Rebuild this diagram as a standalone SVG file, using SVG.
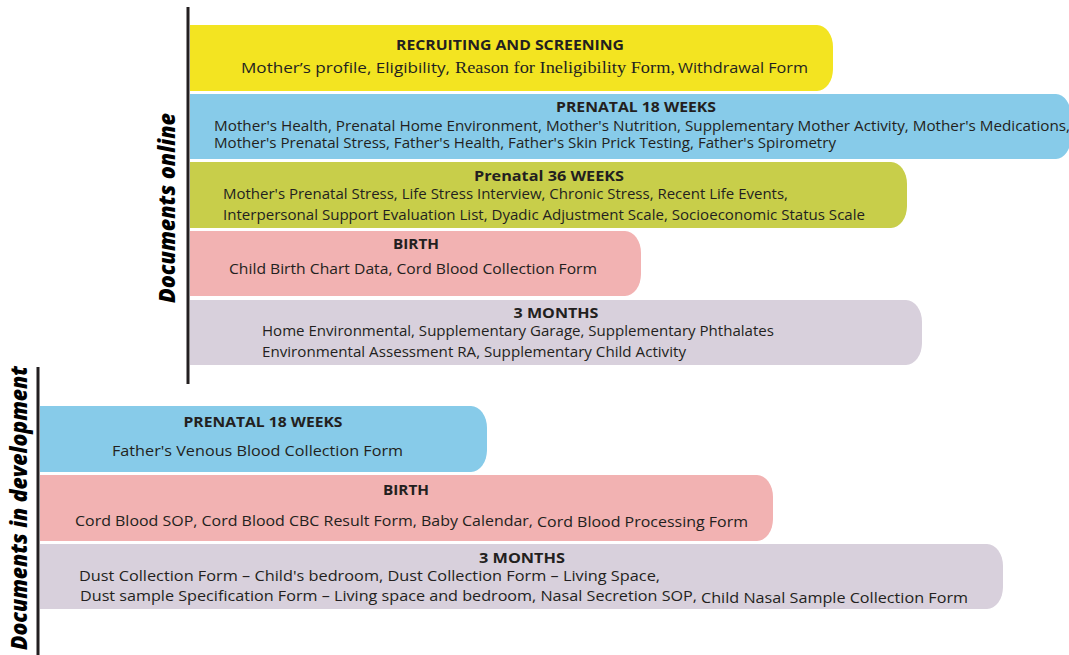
<svg xmlns="http://www.w3.org/2000/svg" width="1069" height="655" viewBox="0 0 1069 655">
<style>
.t{font-family:"Open Sans","Noto Sans",sans-serif;font-weight:bold;font-size:15px;fill:#231f20;text-anchor:middle}
.b{font-family:"Open Sans","Noto Sans",sans-serif;font-size:15px;fill:#231f20}
.bs{font-family:"Open Sans","Noto Sans",sans-serif;font-size:14px;fill:#231f20}
.s{font-family:"Liberation Serif","Times New Roman",serif;font-size:17px;fill:#231f20}
.lab{font-family:"Open Sans","DejaVu Sans",sans-serif;font-weight:800;font-style:italic;font-size:23px;fill:#000;text-anchor:middle}
.yel{fill:#f3e421}.blu{fill:#87cbe9}.grn{fill:#c8ce4a}.pnk{fill:#f2b2b2}.lav{fill:#d8d0dc}
.axis{stroke:#231f20;stroke-width:3;fill:none}
</style>
<rect width="1069" height="655" fill="#fff"/>
<g id="axes">
<line class="axis" x1="188" y1="7" x2="188" y2="384"/>
<line class="axis" x1="38" y1="367" x2="38" y2="655"/>
<text class="lab" transform="translate(175,208) rotate(-90)" textLength="190" lengthAdjust="spacingAndGlyphs">Documents online</text>
<text class="lab" transform="translate(27,508) rotate(-90)" textLength="284" lengthAdjust="spacingAndGlyphs">Documents in development</text>
</g>
<g id="recruiting">
<path class="yel" d="M190 25 H817 A16 22 0 0 1 833 47 V69 A16 22 0 0 1 817 91 H190 Z"/>
<text class="t" x="510" y="50" textLength="228" lengthAdjust="spacingAndGlyphs">RECRUITING AND SCREENING</text>
<text class="b" x="241" y="73" textLength="209" lengthAdjust="spacingAndGlyphs">Mother’s profile, Eligibility,</text>
<text class="s" x="455" y="73" textLength="220" lengthAdjust="spacingAndGlyphs">Reason for Ineligibility Form,</text>
<text class="b" x="678" y="73" textLength="130" lengthAdjust="spacingAndGlyphs">Withdrawal Form</text>
</g>
<g id="prenatal18-online">
<path class="blu" d="M190 94 H1056 A15 22 0 0 1 1071 116 V137 A15 22 0 0 1 1056 159 H190 Z"/>
<text class="t" x="636" y="112" textLength="160" lengthAdjust="spacingAndGlyphs">PRENATAL 18 WEEKS</text>
<text class="bs" x="214" y="131" textLength="856" lengthAdjust="spacingAndGlyphs">Mother's Health, Prenatal Home Environment, Mother's Nutrition, Supplementary Mother Activity, Mother's Medications,</text>
<text class="bs" x="214" y="148" textLength="622" lengthAdjust="spacingAndGlyphs">Mother's Prenatal Stress, Father's Health, Father's Skin Prick Testing, Father's Spirometry</text>
</g>
<g id="prenatal36-online">
<path class="grn" d="M190 162 H891 A16 22 0 0 1 907 184 V206 A16 22 0 0 1 891 228 H190 Z"/>
<text class="t" x="549" y="181" textLength="150" lengthAdjust="spacingAndGlyphs">Prenatal 36  WEEKS</text>
<text class="b" x="223" y="199" textLength="565" lengthAdjust="spacingAndGlyphs">Mother's Prenatal Stress, Life Stress Interview, Chronic Stress, Recent Life Events,</text>
<text class="b" x="223" y="220" textLength="642" lengthAdjust="spacingAndGlyphs">Interpersonal Support Evaluation List, Dyadic Adjustment Scale, Socioeconomic Status Scale</text>
</g>
<g id="birth-online">
<path class="pnk" d="M190 231 H625 A16 22 0 0 1 641 253 V274 A16 22 0 0 1 625 296 H190 Z"/>
<text class="t" x="416" y="249" textLength="46" lengthAdjust="spacingAndGlyphs">BIRTH</text>
<text class="b" x="229" y="274" textLength="368" lengthAdjust="spacingAndGlyphs">Child Birth Chart Data, Cord Blood Collection Form</text>
</g>
<g id="months3-online">
<path class="lav" d="M190 300 H906 A16 22 0 0 1 922 322 V343 A16 22 0 0 1 906 365 H190 Z"/>
<text class="t" x="556" y="318" textLength="85" lengthAdjust="spacingAndGlyphs">3 MONTHS</text>
<text class="b" x="262" y="336" textLength="512" lengthAdjust="spacingAndGlyphs">Home Environmental, Supplementary Garage, Supplementary Phthalates</text>
<text class="b" x="262" y="357" textLength="424" lengthAdjust="spacingAndGlyphs">Environmental Assessment RA, Supplementary Child Activity</text>
</g>
<g id="prenatal18-dev">
<path class="blu" d="M40 406 H471 A16 22 0 0 1 487 428 V450 A16 22 0 0 1 471 472 H40 Z"/>
<text class="t" x="263" y="427" textLength="159" lengthAdjust="spacingAndGlyphs">PRENATAL 18 WEEKS</text>
<text class="b" x="112" y="456" textLength="291" lengthAdjust="spacingAndGlyphs">Father's Venous Blood Collection Form</text>
</g>
<g id="birth-dev">
<path class="pnk" d="M40 475 H757 A16 22 0 0 1 773 497 V519 A16 22 0 0 1 757 541 H40 Z"/>
<text class="t" x="406" y="495" textLength="46" lengthAdjust="spacingAndGlyphs">BIRTH</text>
<text class="b" x="75" y="526" textLength="458" lengthAdjust="spacingAndGlyphs">Cord Blood SOP, Cord Blood CBC Result Form, Baby Calendar,</text>
<text class="b" x="537" y="527" textLength="211" lengthAdjust="spacingAndGlyphs">Cord Blood Processing Form</text>
</g>
<g id="months3-dev">
<path class="lav" d="M40 544 H987 A16 22 0 0 1 1003 566 V587 A16 22 0 0 1 987 609 H40 Z"/>
<text class="t" x="522" y="563" textLength="86" lengthAdjust="spacingAndGlyphs">3 MONTHS</text>
<text class="b" x="79" y="581" textLength="581" lengthAdjust="spacingAndGlyphs">Dust Collection Form – Child's bedroom, Dust Collection Form – Living Space,</text>
<text class="b" x="80" y="601" textLength="617" lengthAdjust="spacingAndGlyphs">Dust sample Specification Form – Living space and bedroom, Nasal Secretion SOP,</text>
<text class="b" x="701" y="603" textLength="267" lengthAdjust="spacingAndGlyphs">Child Nasal Sample Collection Form</text>
</g>
</svg>
